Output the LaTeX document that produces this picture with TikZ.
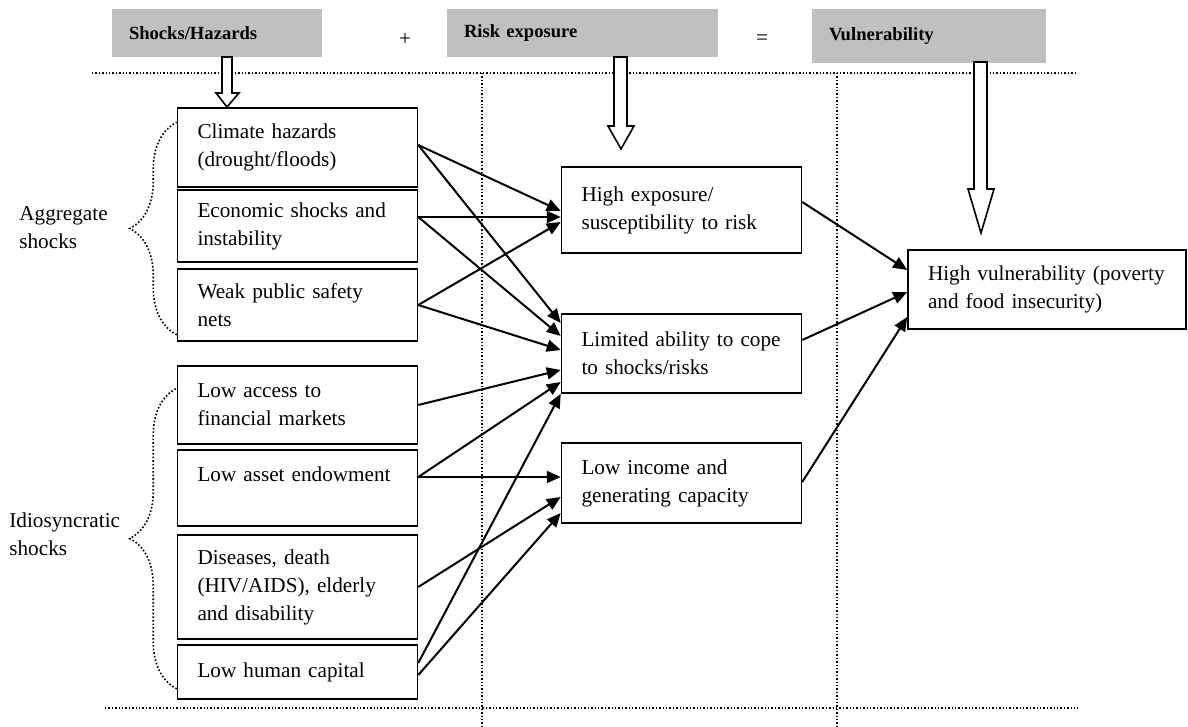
\documentclass[tikz,border=0pt]{standalone}
\usepackage{fontspec}
\setmainfont{Liberation Serif}
\usetikzlibrary{positioning,arrows.meta,decorations.pathreplacing}
\definecolor{headgray}{RGB}{192,192,192}

\begin{document}
\begin{tikzpicture}[x=0.5pt,y=-0.5pt,
font=\fontsize{10.6}{14}\selectfont,
data/.style={
rectangle,
draw,
line width=0.75pt,
text width=100pt,
inner xsep=10pt,
inner ysep=0pt,
align=left
},
head/.style={
rectangle,
fill=headgray,
inner xsep=8.5pt,
minimum height=24pt,
align=left,
font=\fontsize{9.3}{11}\selectfont\bfseries
},
link/.style={-{Triangle[length=7pt,width=6pt]},line width=1pt},
sep/.style={densely dotted,line width=0.7pt},
hollow/.style={draw,fill=white,line width=0.8pt,line join=miter},
brace/.style={densely dotted,line width=0.8pt,decorate,decoration={brace,amplitude=23.5pt}},
]
\useasboundingbox (0,0) rectangle (1188,727);

% headings
\node (hazard) [head, text width=88pt] at (217,33) {Shocks/Hazards};
\node (plus) at (405,40) {+};
\node (expose) [head, text width=118.5pt] at (582.5,33) {Risk exposure};
\node (equal) at (762,40) {=};
\node (vulnhead) [head, text width=100pt, minimum height=27pt] at (929,36) {Vulnerability};

% separators
\draw[sep] (92,73) -- (1078,73);
\draw[sep] (105,708) -- (1078,708);
\draw[sep] (482,73) -- (482,727);
\draw[sep] (837,73) -- (837,727);

% block arrows
\draw[hollow] (222,57) -- (222,93) -- (216,93) -- (227,107) -- (239,93) -- (232,93) -- (232,57) -- cycle;
\draw[hollow] (614,57) -- (614,126) -- (608,126) -- (621,149) -- (634,126) -- (627,126) -- (627,57) -- cycle;
\draw[hollow] (974,62) -- (974,189) -- (968,189) -- (981,233) -- (994,189) -- (987,189) -- (987,62) -- cycle;

% shocks
\node (clim) [data, minimum height=39.5pt] at (297.5,147.5) {Climate hazards\\(drought/floods)};
\node (econ) [data, below of=clim, node distance=39.25pt, minimum height=36pt] {Economic shocks and\\instability};
\node (weak) [data, below of=econ, node distance=39.5pt, minimum height=36pt] {Weak public safety\\nets};
\node (access) [data, below of=weak, node distance=50pt, minimum height=39pt] {Low access to\\financial markets};
\node (asset) [data, below of=access, node distance=41.5pt, minimum height=38pt] {Low asset endowment\\\mbox{}};
\node (disease) [data, below of=asset, node distance=49.5pt, minimum height=52pt] {Diseases, death\\(HIV/AIDS), elderly\\and disability};
\node (human) [data, below of=disease, node distance=42.5pt, minimum height=27pt] {Low human capital};

\draw[brace] ([yshift=3.5pt]weak.south west) -- ([yshift=-7.5pt]clim.north west);
\draw[brace] ([yshift=5.5pt]human.south west) -- ([yshift=-11.5pt]access.north west);
\node (agglabel) [anchor=west, align=left, inner sep=0pt] at (19,228) {Aggregate\\shocks};
\node (idilabel) [anchor=west, align=left, inner sep=0pt] at (9,534.5) {Idiosyncratic\\shocks};

% exposure
\node (expo) [data, minimum height=43pt] at (681.5,210) {High exposure/\\susceptibility to risk};
\node (cope) [data, below of=expo, node distance=71.75pt, minimum height=39.5pt] {Limited ability to cope\\to shocks/risks};
\node (income) [data, below of=cope, node distance=64.75pt, minimum height=40pt] {Low income and\\generating capacity};

% vulnerability
\node (vuln) [data, text width=119pt, minimum height=39.5pt] at (1047,289.5) {High vulnerability (poverty\\and food insecurity)};

\draw[link] ([yshift=1.25pt]clim.east) -- ([yshift=-0.5pt]expo.west);
\draw[link] ([yshift=4.5pt]econ.east) -- ([yshift=-3.5pt]expo.west);
\draw[link] (weak.east) -- ([yshift=-6pt]expo.west);

\draw[link] ([yshift=1.25pt]clim.east) -- ([yshift=15.25pt]cope.west);
\draw[link] ([yshift=4.5pt]econ.east) -- ([yshift=8.75pt]cope.west);
\draw[link] (weak.east) -- ([yshift=1.75pt]cope.west);
\draw[link] (access.east) -- ([yshift=-8.25pt]cope.west);
\draw[link] ([yshift=5.5pt]asset.east) -- ([yshift=-14.25pt]cope.west);
\draw[link] ([yshift=4.5pt]human.east) -- (cope.south west);

\draw[link] ([yshift=5.5pt]asset.east) -- ([yshift=3pt]income.west);
\draw[link] (disease.east) -- ([yshift=-7pt]income.west);
\draw[link] ([yshift=-1.5pt]human.east) -- ([yshift=-15pt]income.west);

\draw[link] ([yshift=4pt]expo.east) -- ([yshift=9.75pt]vuln.west);
\draw[link] ([yshift=6.75pt]cope.east) -- ([yshift=-1.25pt]vuln.west);
\draw[link] ([yshift=0.5pt]income.east) -- ([yshift=-13.75pt]vuln.west);
\end{tikzpicture}
\end{document}
